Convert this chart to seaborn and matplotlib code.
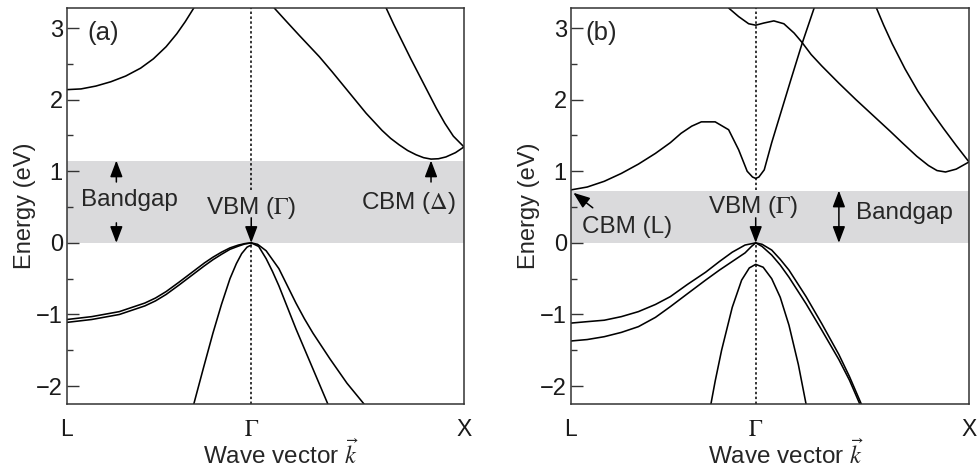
import numpy as np
import pandas as pd
import matplotlib
matplotlib.use("Agg")
import matplotlib.pyplot as plt
import seaborn as sns

# ---------------- data (k in units of 2pi/a; L at -0.866, Gamma at 0, X at 1) -------------
k_ticks = [-0.866, 0.0, 1.0]
k_labels = ["L", r"$\Gamma$", "X"]
y_major = [-2, -1, 0, 1, 2, 3]
y_minor = [-1.5, -0.5, 0.5, 1.5, 2.5]

# (a) Si
si_gap = 1.15
si_cb1_k = [-0.866, -0.80, -0.73, -0.66, -0.59, -0.52, -0.46, -0.40, -0.35, -0.31, -0.27]
si_cb1_E = [2.14, 2.15, 2.19, 2.25, 2.33, 2.44, 2.57, 2.74, 2.92, 3.09, 3.28]
si_cb2_k = [0.108, 0.16, 0.225, 0.32, 0.38, 0.46, 0.54, 0.615, 0.655, 0.695, 0.735,
            0.775, 0.81, 0.845, 0.88, 0.915, 0.96, 1.0]
si_cb2_E = [3.28, 3.11, 2.90, 2.60, 2.39, 2.10, 1.81, 1.57, 1.46, 1.37, 1.29,
            1.23, 1.19, 1.17, 1.175, 1.20, 1.26, 1.34]
si_cb3_k = [0.634, 0.67, 0.71, 0.75, 0.79, 0.83, 0.87, 0.91, 0.95, 1.0]
si_cb3_E = [3.28, 3.05, 2.81, 2.57, 2.34, 2.11, 1.88, 1.67, 1.49, 1.34]
si_vL1_k = [-0.866, -0.75, -0.62, -0.50, -0.45, -0.40, -0.34, -0.30, -0.26, -0.22, -0.18,
            -0.14, -0.10, -0.06, -0.03, 0.0]
si_vL1_E = [-1.07, -1.03, -0.96, -0.84, -0.77, -0.68, -0.55, -0.46, -0.37, -0.28, -0.20,
            -0.13, -0.07, -0.03, -0.01, 0.0]
si_vL2_k = [-0.866, -0.75, -0.62, -0.50, -0.45, -0.40, -0.34, -0.30, -0.26, -0.22, -0.18,
            -0.14, -0.10, -0.06, -0.03, 0.0]
si_vL2_E = [-1.11, -1.07, -1.00, -0.88, -0.81, -0.72, -0.59, -0.50, -0.41, -0.32, -0.235,
            -0.16, -0.09, -0.045, -0.015, 0.0]
si_vR1_k = [0.0, 0.03, 0.07, 0.13, 0.17, 0.21, 0.25, 0.29, 0.37, 0.45, 0.53]
si_vR1_E = [0.0, -0.02, -0.11, -0.36, -0.60, -0.84, -1.06, -1.26, -1.62, -1.96, -2.25]
si_vR2_k = [0.0, 0.035, 0.07, 0.10, 0.13, 0.17, 0.21, 0.25, 0.29, 0.36]
si_vR2_E = [0.0, -0.05, -0.22, -0.40, -0.60, -0.90, -1.20, -1.48, -1.76, -2.25]
si_so_k = [-0.27, -0.225, -0.18, -0.14, -0.10, -0.07, -0.045, -0.02, 0.0]
si_so_E = [-2.25, -1.75, -1.26, -0.86, -0.50, -0.29, -0.15, -0.06, -0.03]

# (b) Ge
ge_gap = 0.73
ge_cbL_k = [-0.866, -0.79, -0.71, -0.63, -0.55, -0.47, -0.40, -0.35, -0.30, -0.255, -0.19,
            -0.127, -0.08, -0.04, -0.015, 0.0, 0.015, 0.04, 0.075, 0.12, 0.165, 0.217, 0.274]
ge_cbL_E = [0.74, 0.78, 0.86, 0.97, 1.10, 1.25, 1.40, 1.53, 1.63, 1.69, 1.69,
            1.58, 1.30, 1.00, 0.92, 0.90, 0.92, 1.02, 1.40, 1.84, 2.28, 2.78, 3.28]
ge_cbU_k = [-0.127, -0.08, -0.033, 0.0, 0.038, 0.085, 0.132, 0.18, 0.217, 0.26, 0.31, 0.39,
            0.47, 0.55, 0.63, 0.69, 0.755, 0.81, 0.85, 0.89, 0.94, 1.0]
ge_cbU_E = [3.28, 3.16, 3.06, 3.04, 3.07, 3.10, 3.06, 2.93, 2.80, 2.63, 2.47, 2.23,
            2.00, 1.78, 1.56, 1.39, 1.21, 1.08, 1.01, 0.99, 1.03, 1.13]
ge_cbX_k = [0.566, 0.60, 0.64, 0.70, 0.76, 0.82, 0.88, 0.94, 1.0]
ge_cbX_E = [3.28, 3.04, 2.78, 2.43, 2.12, 1.85, 1.60, 1.36, 1.13]
ge_vL1_k = [-0.866, -0.79, -0.71, -0.63, -0.55, -0.47, -0.40, -0.32, -0.235, -0.17, -0.11, -0.05, 0.0]
ge_vL1_E = [-1.12, -1.10, -1.08, -1.03, -0.96, -0.86, -0.75, -0.58, -0.41, -0.26, -0.13, -0.03, 0.0]
ge_vL2_k = [-0.866, -0.79, -0.71, -0.63, -0.55, -0.47, -0.40, -0.32, -0.235, -0.17, -0.11, -0.05, -0.02, 0.0]
ge_vL2_E = [-1.37, -1.35, -1.31, -1.25, -1.17, -1.04, -0.89, -0.71, -0.52, -0.38, -0.26, -0.14, -0.05, 0.0]
ge_vR1_k = [0.0, 0.03, 0.075, 0.115, 0.156, 0.236, 0.31, 0.39, 0.44, 0.495]
ge_vR1_E = [0.0, -0.02, -0.10, -0.23, -0.38, -0.75, -1.13, -1.56, -1.87, -2.25]
ge_vR2_k = [0.0, 0.03, 0.075, 0.115, 0.156, 0.236, 0.31, 0.39, 0.44, 0.488]
ge_vR2_E = [0.0, -0.05, -0.17, -0.31, -0.48, -0.85, -1.22, -1.63, -1.92, -2.25]
ge_so_k = [-0.21, -0.19, -0.16, -0.11, -0.066, -0.03, 0.0, 0.035, 0.075, 0.115, 0.156, 0.20, 0.236]
ge_so_E = [-2.25, -1.93, -1.50, -0.90, -0.52, -0.35, -0.30, -0.34, -0.50, -0.76, -1.15, -1.70, -2.25]

# ---------------- style ----------------
sns.set_style("white")
plt.rcParams["font.family"] = ["Liberation Sans", "DejaVu Sans"]
plt.rcParams["mathtext.fontset"] = "stix"
plt.rcParams["axes.unicode_minus"] = True

fig = plt.figure(figsize=(9.79, 4.70), dpi=100)
ax_a = fig.add_axes([67 / 979, 66 / 470, 397 / 979, 396 / 470])
ax_b = fig.add_axes([571 / 979, 66 / 470, 398 / 979, 396 / 470])

YMIN, YMAX = -2.25, 3.28
LW = 1.15
GRAY = "#dadadc"


def band(ax, k, E):
    sns.lineplot(x=k, y=E, ax=ax, color="black", linewidth=LW, sort=False,
                 estimator=None, legend=False)


def setup(ax, gap, tag, tag_x):
    ax.set_xlim(k_ticks[0], k_ticks[-1])
    ax.set_ylim(YMIN, YMAX)
    ax.axhspan(0, gap, color=GRAY, zorder=0, lw=0)
    ax.set_xticks(k_ticks)
    ax.set_xticklabels(k_labels)
    ax.set_yticks(y_major)
    ax.set_yticks(y_minor, minor=True)
    ax.tick_params(axis="y", which="major", direction="in", length=8.5, width=1.0,
                   labelsize=17, pad=3, left=True, color="#333333", labelcolor="#1a1a1a")
    ax.tick_params(axis="y", which="minor", direction="in", length=4.5, width=1.0,
                   left=True, color="#333333")
    ax.tick_params(axis="x", length=0, labelsize=16.5, pad=10, labelcolor="#1a1a1a")
    for s in ax.spines.values():
        s.set_color("#333333")
        s.set_linewidth(1.1)
    ax.set_ylabel("Energy (eV)", fontsize=17)
    ax.yaxis.set_label_coords(-0.077, 0.5)
    ax.set_xlabel(r"Wave vector $\vec{k}$", fontsize=17.5)
    ax.xaxis.set_label_coords(0.54, -0.152)
    ax.xaxis.label.set_verticalalignment("baseline")
    # dotted line through Gamma
    ax.plot([0, 0], [0.74, YMAX], ls=(0, (1.6, 1.6)), color="black", lw=1.1, zorder=1)
    ax.plot([0, 0], [YMIN, 0], ls=(0, (1.6, 1.6)), color="black", lw=1.1, zorder=1)
    ax.text(tag_x, 2.93, tag, fontsize=18.5, ha="left", va="center")


HEAD = "-|>,head_length=0.5,head_width=0.19"
arrow = dict(arrowstyle=HEAD, color="black", lw=1.1, mutation_scale=20,
             shrinkA=0, shrinkB=0)
txt = dict(fontsize=17.5, ha="center", va="center")

# ----- panel (a) -----
setup(ax_a, si_gap, "(a)", -0.77)
for k, E in [(si_cb1_k, si_cb1_E), (si_cb2_k, si_cb2_E), (si_cb3_k, si_cb3_E),
             (si_vL1_k, si_vL1_E), (si_vL2_k, si_vL2_E), (si_vR1_k, si_vR1_E),
             (si_vR2_k, si_vR2_E), (si_so_k, si_so_E)]:
    band(ax_a, k, E)
ax_a.text(-0.573, 0.60, "Bandgap", **txt)
ax_a.annotate("", xy=(-0.634, si_gap), xytext=(-0.634, 0.85), arrowprops=arrow)
ax_a.annotate("", xy=(-0.634, 0.0), xytext=(-0.634, 0.28), arrowprops=arrow)
ax_a.text(0.0, 0.49, r"VBM ($\Gamma$)", **txt)
ax_a.annotate("", xy=(0.0, 0.0), xytext=(0.0, 0.35), arrowprops=arrow)
ax_a.text(0.737, 0.56, r"CBM ($\Delta$)", **txt)
ax_a.annotate("", xy=(0.845, si_gap), xytext=(0.845, 0.85), arrowprops=arrow)

# ----- panel (b) -----
setup(ax_b, ge_gap, "(b)", -0.797)
for k, E in [(ge_cbL_k, ge_cbL_E), (ge_cbU_k, ge_cbU_E), (ge_cbX_k, ge_cbX_E),
             (ge_vL1_k, ge_vL1_E), (ge_vL2_k, ge_vL2_E), (ge_vR1_k, ge_vR1_E),
             (ge_vR2_k, ge_vR2_E), (ge_so_k, ge_so_E)]:
    band(ax_b, k, E)
ax_b.text(-0.604, 0.22, "CBM (L)", **txt)
ax_b.annotate("", xy=(-0.855, 0.70), xytext=(-0.764, 0.49), arrowprops=arrow)
ax_b.text(-0.014, 0.50, r"VBM ($\Gamma$)", **txt)
ax_b.annotate("", xy=(0.0, 0.0), xytext=(0.0, 0.35), arrowprops=arrow)
ax_b.annotate("", xy=(0.39, ge_gap), xytext=(0.39, 0.0),
              arrowprops=dict(arrowstyle="<|-|>,head_length=0.5,head_width=0.19",
                              color="black", lw=1.1, mutation_scale=20,
                              shrinkA=0, shrinkB=0))
ax_b.text(0.47, 0.42, "Bandgap", fontsize=17.5, ha="left", va="center")

fig.savefig("out.png", dpi=100)
